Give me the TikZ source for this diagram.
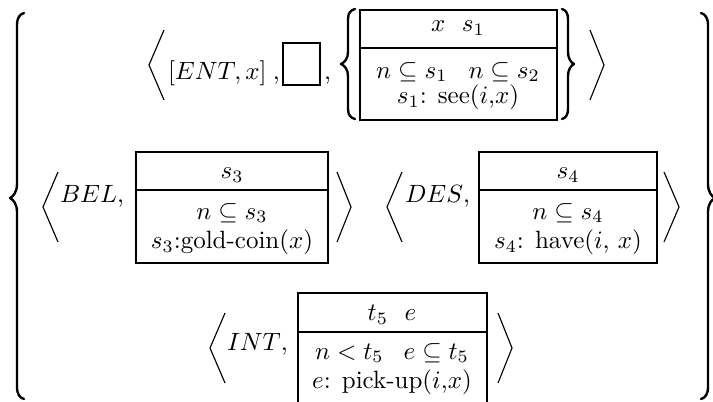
\documentclass[tikz,border=0pt]{standalone}
% xe, xv, xt, ytop, ymid, ybot, rend, rmid
\newcommand\mybrace[8]{\draw[brc] (#1,#4) .. controls (0.6*#2+0.4*#1,#4+0.1*#7) and (#2,#4+0.4*#7) .. (#2,#4+#7) -- (#2,#5-#8) .. controls (#2,#5-0.45*#8) and (0.5*#2+0.5*#3,#5-0.12*#8) .. (#3,#5) .. controls (0.5*#2+0.5*#3,#5+0.12*#8) and (#2,#5+0.45*#8) .. (#2,#5+#8) -- (#2,#6-#7) .. controls (#2,#6-0.4*#7) and (0.6*#2+0.4*#1,#6-0.1*#7) .. (#1,#6);}
\newcommand\myangle[3]{\draw[ang] (#1,#3-35) -- (#2,#3) -- (#1,#3+35);}
\begin{document}
\begin{tikzpicture}[x=0.4pt,y=-0.4pt,
  ang/.style={line width=0.45pt, line join=miter},
  brc/.style={line width=0.95pt, line cap=round, line join=round},
  frame/.style={line width=0.45pt},
  txt/.style={inner sep=0pt, outer sep=0pt}]
\useasboundingbox (0,0) rectangle (713,401);
\clip (0,0) rectangle (713,401);
% outer braces
\mybrace{24}{17}{10}{13}{198}{399}{12}{14}
\mybrace{701}{708}{715}{13}{198}{399}{12}{14}
% ---- row 1
\myangle{164}{149}{65}
\node[txt,anchor=base west] (ent) at (168,79) {$[ENT,x]$\hspace{2.5pt},};
\draw[frame] (283,43) rectangle (320,85);
\node[txt,anchor=base west] (c2) at (324,79) {,};
\mybrace{355}{348}{341}{9}{64}{119}{10}{12}
\draw[frame] (360,10) rectangle (557,120);
\draw[frame] (360,48) -- (557,48);
\node[txt] (b1a) at (458,28) {$x$\ \ $s_1$};
\node[txt] (b1b) at (458,72) {$n\subseteq s_1$\hspace{8.4pt}$n\subseteq s_2$};
\node[txt] (b1c) at (458,97) {$s_1$: see($i$,$x$)};
\mybrace{562}{568}{574}{9}{64}{119}{10}{12}
\myangle{590}{604}{65}
% ---- row 2
\myangle{58}{43}{207}
\node[txt,anchor=base west] (bel) at (60,202) {$BEL$,};
\draw[frame] (136,152) rectangle (328,263);
\draw[frame] (136,190) -- (328,190);
\node[txt] (b2a) at (232,175) {$s_3$};
\node[txt] (b2b) at (232,213) {$n\subseteq s_3$};
\node[txt] (b2c) at (232,242) {$s_3$:gold-coin($x$)};
\myangle{337}{351}{207}
\myangle{402}{387}{207}
\node[txt,anchor=base west] (des) at (405,202) {$DES$,};
\draw[frame] (479,152) rectangle (657,263);
\draw[frame] (479,190) -- (657,190);
\node[txt] (b3a) at (568,175) {$s_4$};
\node[txt] (b3b) at (568,213) {$n\subseteq s_4$};
\node[txt] (b3c) at (568,242) {$s_4$: have($i$, $x$)};
\myangle{664}{679}{207}
% ---- row 3
\myangle{225}{210}{348}
\node[txt,anchor=base west] (int) at (227,350) {$INT$,};
\draw[frame] (298,293) rectangle (487,430);
\draw[frame] (298,332) -- (487,332);
\node[txt] (b4a) at (392,315) {$t_5$\ \ $e$};
\node[txt] (b4b) at (392,353) {$n<t_5$\hspace{8pt}$e\subseteq t_5$};
\node[txt] (b4c) at (392,382) {$e$: pick-up($i$,$x$)};
\myangle{498}{512}{348}
\end{tikzpicture}
\end{document}
